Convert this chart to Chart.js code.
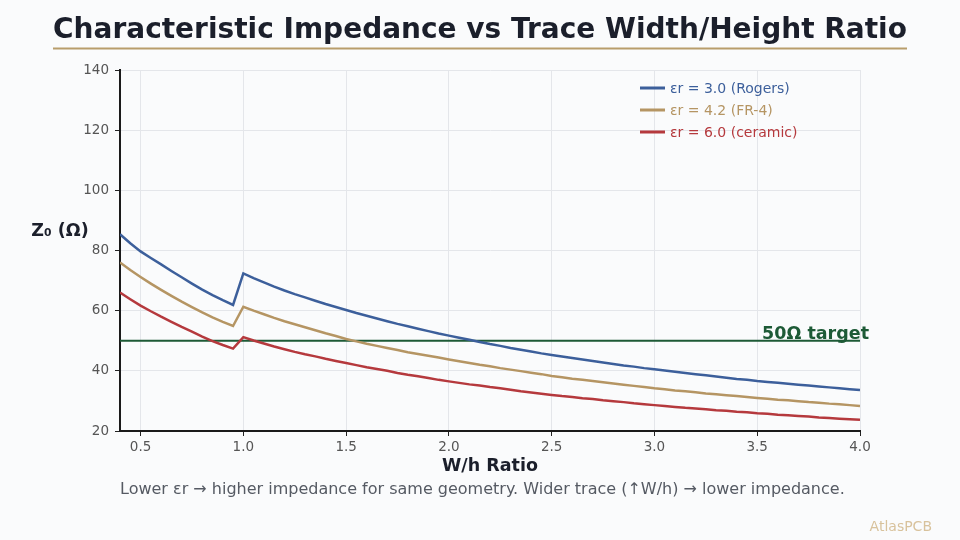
<!DOCTYPE html>
<html>
<head>
<meta charset="utf-8">
<title>Characteristic Impedance vs Trace Width/Height Ratio</title>
<script src="https://cdn.jsdelivr.net/npm/chart.js@4/dist/chart.umd.min.js"></script>
<style>
	html, body { margin: 0; padding: 0; background: #fafbfc; }
	#wrap { position: relative; width: 960px; height: 540px; }
	#imp-canvas { display: block; }
</style>
</head>
<body>
<div id="wrap"><canvas id="imp-canvas" width="960" height="540"></canvas></div>
<script>
// W/h ratio samples (0.4 .. 4.0, step 0.05)
var ratios = [
	0.40, 0.45, 0.50, 0.55, 0.60, 0.65, 0.70, 0.75, 0.80, 0.85, 0.90, 0.95,
	1.00, 1.05, 1.10, 1.15, 1.20, 1.25, 1.30, 1.35, 1.40, 1.45, 1.50,
	1.55, 1.60, 1.65, 1.70, 1.75, 1.80, 1.85, 1.90, 1.95, 2.00,
	2.05, 2.10, 2.15, 2.20, 2.25, 2.30, 2.35, 2.40, 2.45, 2.50,
	2.55, 2.60, 2.65, 2.70, 2.75, 2.80, 2.85, 2.90, 2.95, 3.00,
	3.05, 3.10, 3.15, 3.20, 3.25, 3.30, 3.35, 3.40, 3.45, 3.50,
	3.55, 3.60, 3.65, 3.70, 3.75, 3.80, 3.85, 3.90, 3.95, 4.00
];

// Z0 (ohm) for er = 3.0 (Rogers)
var z0Rogers = [
	85.4, 82.4, 79.7, 77.5, 75.4, 73.2, 71.1, 69.0, 67.0, 65.2, 63.5, 61.9,
	72.4, 70.8, 69.4, 68.0, 66.7, 65.5, 64.4, 63.3, 62.2, 61.2, 60.2,
	59.2, 58.3, 57.4, 56.5, 55.6, 54.8, 54.0, 53.2, 52.4, 51.7,
	51.0, 50.3, 49.6, 48.9, 48.3, 47.6, 47.0, 46.4, 45.8, 45.3,
	44.8, 44.3, 43.8, 43.3, 42.8, 42.3, 41.8, 41.4, 40.9, 40.5,
	40.1, 39.7, 39.3, 38.9, 38.5, 38.1, 37.7, 37.3, 37.0, 36.6,
	36.3, 36.0, 35.7, 35.4, 35.1, 34.8, 34.5, 34.2, 33.9, 33.6
];

// Z0 (ohm) for er = 4.2 (FR-4)
var z0Fr4 = [
	76.0, 73.5, 71.2, 69.0, 66.9, 64.9, 63.0, 61.2, 59.4, 57.8, 56.3, 54.9,
	61.3, 60.0, 58.8, 57.6, 56.5, 55.5, 54.5, 53.5, 52.5, 51.6, 50.6,
	49.8, 49.0, 48.3, 47.6, 46.9, 46.2, 45.6, 45.0, 44.4, 43.8,
	43.2, 42.6, 42.0, 41.5, 40.9, 40.4, 39.9, 39.4, 38.9, 38.3,
	37.9, 37.4, 37.0, 36.6, 36.2, 35.8, 35.4, 35.0, 34.6, 34.2,
	33.9, 33.5, 33.2, 32.9, 32.5, 32.2, 31.9, 31.6, 31.3, 31.0,
	30.7, 30.4, 30.2, 29.9, 29.6, 29.4, 29.1, 28.9, 28.6, 28.3
];

// Z0 (ohm) for er = 6.0 (ceramic)
var z0Ceramic = [
	66.0, 63.8, 61.7, 59.8, 58.0, 56.3, 54.6, 53.0, 51.4, 49.9, 48.6, 47.4,
	51.2, 50.1, 49.1, 48.1, 47.2, 46.3, 45.5, 44.8, 44.0, 43.3, 42.6,
	41.9, 41.2, 40.6, 40.0, 39.3, 38.7, 38.2, 37.6, 37.0, 36.5,
	36.0, 35.5, 35.1, 34.6, 34.2, 33.7, 33.2, 32.8, 32.4, 32.0,
	31.6, 31.3, 30.9, 30.6, 30.2, 29.9, 29.6, 29.2, 28.9, 28.6,
	28.3, 28.0, 27.7, 27.5, 27.2, 26.9, 26.7, 26.4, 26.2, 25.9,
	25.7, 25.4, 25.2, 25.0, 24.8, 24.5, 24.3, 24.1, 23.9, 23.7
];

var seriesLabels = ['\u03b5r = 3.0 (Rogers)', '\u03b5r = 4.2 (FR-4)', '\u03b5r = 6.0 (ceramic)'];
var targetZ0 = 50;
var xTickValues = [0.5, 1.0, 1.5, 2.0, 2.5, 3.0, 3.5, 4.0];
var yTickValues = [20, 40, 60, 80, 100, 120, 140];

var colors = ['#3c5f9b', '#b59563', '#b5393d'];
var targetColor = '#1d5a36';
var fontFamily = '"DejaVu Sans", Verdana, sans-serif';

function toPoints(values) {
	return values.map(function (v, i) { return { x: ratios[i], y: v }; });
}

// Texts around the plot: title, axis titles, legend, note, watermark
var decorPlugin = {
	id: 'decor',
	afterDraw: function (chart) {
		var ctx = chart.ctx;
		var area = chart.chartArea;
		var yScale = chart.scales.y;
		ctx.save();

		// title + underline
		ctx.fillStyle = '#1b1f2b';
		ctx.font = 'bold 28px ' + fontFamily;
		ctx.textAlign = 'center';
		ctx.textBaseline = 'middle';
		ctx.fillText('Characteristic Impedance vs Trace Width/Height Ratio', 480, 31);
		ctx.strokeStyle = '#b89d6b';
		ctx.lineWidth = 2;
		ctx.beginPath();
		ctx.moveTo(53, 48.5);
		ctx.lineTo(907, 48.5);
		ctx.stroke();

		// y axis title, horizontal
		ctx.fillStyle = '#1b1f2b';
		ctx.font = 'bold 17.5px ' + fontFamily;
		ctx.fillText('Z\u2080 (\u03a9)', 60, 231);

		// x axis title
		ctx.fillText('W/h Ratio', (area.left + area.right) / 2, 466);

		// target label
		ctx.fillStyle = targetColor;
		ctx.font = 'bold 17.5px ' + fontFamily;
		ctx.textAlign = 'right';
		ctx.textBaseline = 'alphabetic';
		ctx.fillText('50\u03a9 target', 869, yScale.getPixelForValue(targetZ0) - 2);

		// legend
		ctx.font = '14px ' + fontFamily;
		ctx.textAlign = 'left';
		ctx.textBaseline = 'middle';
		for (var i = 0; i < seriesLabels.length; i++) {
			var ly = 88 + i * 22;
			ctx.strokeStyle = colors[i];
			ctx.lineWidth = 3;
			ctx.beginPath();
			ctx.moveTo(640, ly);
			ctx.lineTo(665, ly);
			ctx.stroke();
			ctx.fillStyle = colors[i];
			ctx.fillText(seriesLabels[i], 670, ly + 1);
		}

		// note under the chart
		ctx.fillStyle = '#555a63';
		ctx.font = '16px ' + fontFamily;
		ctx.fillText('Lower \u03b5r \u2192 higher impedance for same geometry. Wider trace (\u2191W/h) \u2192 lower impedance.', 120, 490);

		// watermark
		ctx.fillStyle = '#d8c29c';
		ctx.font = '14px ' + fontFamily;
		ctx.textAlign = 'right';
		ctx.fillText('AtlasPCB', 932, 527);

		ctx.restore();
	}
};

var lineSets = [z0Rogers, z0Fr4, z0Ceramic].map(function (vals, i) {
	return {
		label: seriesLabels[i],
		data: toPoints(vals),
		borderColor: colors[i],
		borderWidth: 2.5,
		pointRadius: 0,
		tension: 0,
		fill: false
	};
});

lineSets.push({
	label: 'target',
	data: [{ x: ratios[0], y: targetZ0 }, { x: ratios[ratios.length - 1], y: targetZ0 }],
	borderColor: targetColor,
	borderWidth: 2,
	pointRadius: 0,
	fill: false
});

var chartObject = new Chart(document.getElementById('imp-canvas'), {
	type: 'line',
	data: { datasets: lineSets },
	options: {
		responsive: false,
		animation: false,
		layout: { padding: { top: 70, right: 100, bottom: 79, left: 0 } },
		plugins: {
			legend: { display: false },
			title: { display: false },
			tooltip: { enabled: false }
		},
		scales: {
			x: {
				type: 'linear',
				min: ratios[0],
				max: ratios[ratios.length - 1],
				afterBuildTicks: function (scale) {
					scale.ticks = xTickValues.map(function (v) { return { value: v }; });
				},
				afterFit: function (scale) { scale.height = 30; },
				grid: { color: '#e4e6ea', tickColor: '#222', tickLength: 5 },
				border: { display: true, color: '#1a1a1a', width: 2 },
				ticks: {
					color: '#555',
					font: { family: fontFamily, size: 13.5 },
					padding: 3,
					maxRotation: 0,
					callback: function (v) { return v.toFixed(1); }
				}
			},
			y: {
				type: 'linear',
				min: yTickValues[0],
				max: yTickValues[yTickValues.length - 1],
				afterBuildTicks: function (scale) {
					scale.ticks = yTickValues.map(function (v) { return { value: v }; });
				},
				afterFit: function (scale) { scale.width = 120; },
				grid: { color: '#e4e6ea', tickColor: '#222', tickLength: 5 },
				border: { display: true, color: '#1a1a1a', width: 2 },
				ticks: {
					color: '#555',
					font: { family: fontFamily, size: 13.5 },
					padding: 6
				}
			}
		}
	},
	plugins: [decorPlugin]
});
</script>
</body>
</html>
